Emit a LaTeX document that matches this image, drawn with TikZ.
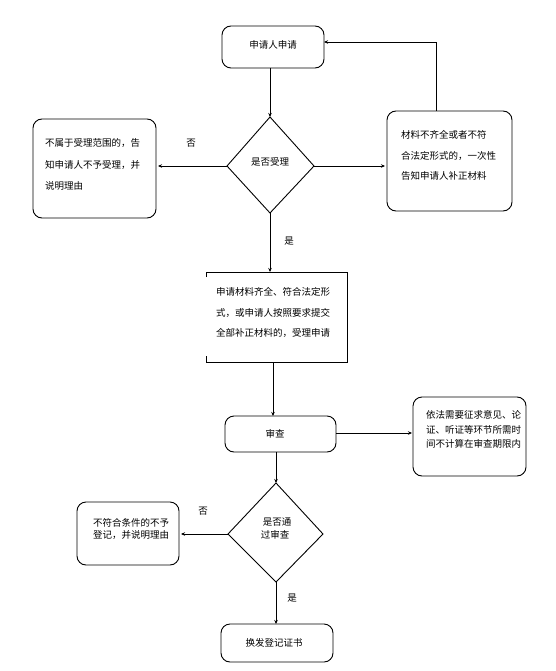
\documentclass[tikz,border=0pt]{standalone}
\usepackage{fontspec}
\newfontfamily\cjk{Noto Sans CJK SC}
\usetikzlibrary{arrows.meta,shapes.geometric}
\begin{document}
\begin{tikzpicture}[x=1pt,y=-1pt,
  every node/.style={font=\cjk\fontsize{9.5}{12}\selectfont, inner sep=0pt},
  ln/.style={line width=0.9pt},
  arr/.style={ln,-{Stealth[length=4pt,width=3.5pt]}},
  rbox/.style={draw,ln,rounded corners=9pt}]
\useasboundingbox (0,0) rectangle (556,671);
% shapes
\draw[rbox] (222,26) rectangle (324,68);
\node (b1) at (273,45) {申请人申请};
\coordinate (b1b) at (270,68);
\coordinate (b1r) at (324,42);

\draw[ln] (270,117) -- (314,166) -- (270,213) -- (227,166) -- cycle;
\node (d1) at (270,162) {是否受理};
\coordinate (d1t) at (270,117);
\coordinate (d1b) at (270,213);
\coordinate (d1l) at (227,166);
\coordinate (d1r) at (314,166);

\draw[rbox] (33,119) rectangle (156,218);
\node[anchor=west] (lb1) at (45,143) {不属于受理范围的，告};
\node[anchor=west] (lb2) at (45,165) {知申请人不予受理，并};
\node[anchor=west] (lb3) at (45,186) {说明理由};
\coordinate (lbr) at (158,166);

\draw[rbox] (387,111) rectangle (512,211);
\node[anchor=west] (rb1) at (401,135) {材料不齐全或者不符};
\node[anchor=west] (rb2) at (401,156) {合法定形式的，一次性};
\node[anchor=west] (rb3) at (401,176) {告知申请人补正材料};
\coordinate (rbl) at (385,166);
\coordinate (rbt) at (436,111);
\coordinate (rbc) at (436,42);

% box3 (partial left edge)
\draw[ln] (206,277) -- (206,272) -- (347,272) -- (347,362) -- (206,362) -- (206,356);
\node[anchor=west] (m1) at (216,292) {申请材料齐全、符合法定形};
\node[anchor=west] (m2) at (216,313) {式，或申请人按照要求提交};
\node[anchor=west] (m3) at (216,333) {全部补正材料的，受理申请};
\coordinate (m3t) at (270,272);
\coordinate (m3b) at (273,362);

\draw[rbox] (225,416) rectangle (336,452);
\node (sc) at (275,434) {审查};
\coordinate (sct) at (273,416);
\coordinate (scr) at (336,433);
\coordinate (scb) at (276,452);

\draw[rbox] (413,397) rectangle (526,476);
\node[anchor=west] (r21) at (426,415) {依法需要征求意见、论};
\node[anchor=west] (r22) at (426,430) {证、听证等环节所需时};
\node[anchor=west] (r23) at (426,444) {间不计算在审查期限内};
\coordinate (r2l) at (412,433);

\draw[ln] (276,483) -- (323,534) -- (276,582) -- (228,534) -- cycle;
\node (d21) at (277,522) {是否通};
\node (d22) at (275,535) {过审查};
\coordinate (d2t) at (276,483);
\coordinate (d2b) at (276,582);
\coordinate (d2l) at (228,534);

\draw[rbox] (77,502) rectangle (179,565);
\node[anchor=west] (l21) at (93,523) {不符合条件的不予};
\node[anchor=west] (l22) at (93,535) {登记，并说明理由};
\coordinate (l2r) at (181,534);

\draw[rbox] (221,624) rectangle (333,662);
\node (hf) at (274,643) {换发登记证书};
\coordinate (hft) at (276,624);

% labels
\node (no1) at (191,143) {否};
\node (yes1) at (289,241) {是};
\node (no2) at (203,511) {否};
\node (yes2) at (292,598) {是};

% connectors
\draw[arr] (b1b) -- (d1t);
\draw[arr] (d1l) -- (lbr);
\draw[arr] (d1r) -- (rbl);
\draw[arr] (rbt) -- (rbc) -- (b1r);
\draw[arr] (d1b) -- (m3t);
\draw[arr] (m3b) -- (sct);
\draw[arr] (scr) -- (r2l);
\draw[arr] (scb) -- (d2t);
\draw[arr] (d2l) -- (l2r);
\draw[arr] (d2b) -- (hft);
\end{tikzpicture}
\end{document}
